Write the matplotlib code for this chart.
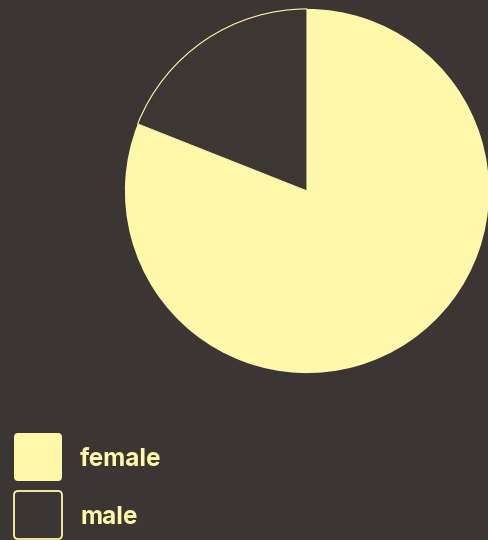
import matplotlib
matplotlib.use("Agg")
import matplotlib.pyplot as plt
from matplotlib.patches import FancyBboxPatch

categories = ["female", "male"]
values = [81, 19]

BG = "#3b3633"
YEL = "#fff7a9"
SLICE_COLORS = [YEL, "#3d3734"]

W, H = 488, 540
fig = plt.figure(figsize=(W / 100, H / 100), dpi=100)
fig.patch.set_facecolor(BG)

cx, cy, r = 307, 191, 183
ax = fig.add_axes([(cx - r) / W, 1 - (cy + r) / H, 2 * r / W, 2 * r / H])
ax.set_facecolor("none")
wedges, _ = ax.pie(values, colors=SLICE_COLORS, startangle=90, counterclock=False,
                   radius=1.0, wedgeprops=dict(linewidth=0))
wedges[1].set_edgecolor(YEL)
wedges[1].set_linewidth(0.8)
ax.set_xlim(-1.005, 1.005)
ax.set_ylim(-1.005, 1.005)
ax.set_aspect("equal")
ax.axis("off")

# legend
box_x, box_w = 14, 48
rows = [(433, True), (491, False)]
for (top, filled), name in zip(rows, categories):
    p = FancyBboxPatch(((box_x) / W, 1 - (top + box_w) / H), box_w / W, box_w / H,
                       boxstyle="round,pad=0,rounding_size=0.008",
                       transform=fig.transFigure,
                       facecolor=YEL if filled else "none",
                       edgecolor=YEL, linewidth=1.3 if not filled else 0)
    fig.add_artist(p)
    fig.text(80 / W, 1 - (top + 26) / H, name, color=YEL, fontsize=17.5,
             fontweight="bold", family=["Inter", "DejaVu Sans"], va="center", ha="left")

fig.savefig("out.png", dpi=100, facecolor=BG)
